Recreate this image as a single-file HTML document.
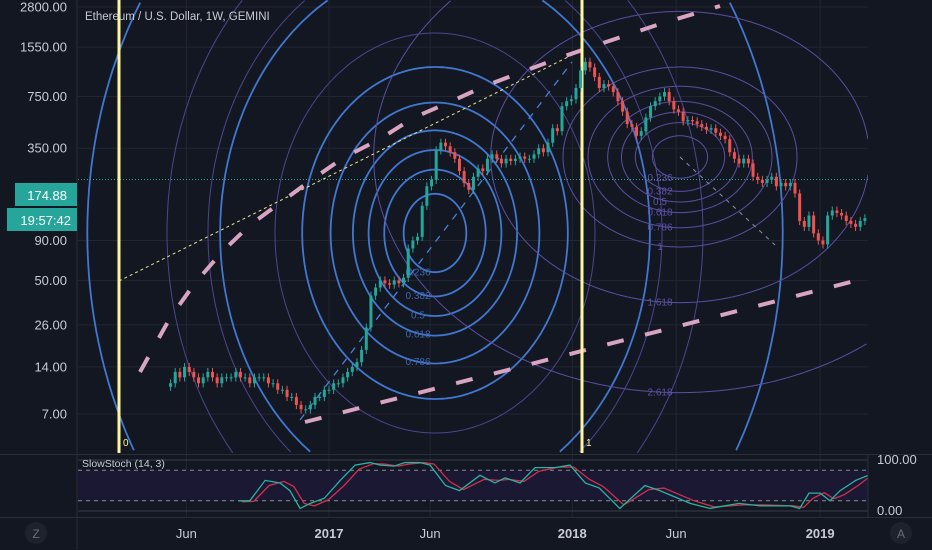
<!DOCTYPE html>
<html><head><meta charset="utf-8">
<style>
html,body{margin:0;padding:0;background:#131722;width:932px;height:550px;overflow:hidden;}
body{font-family:"Liberation Sans",sans-serif;}
svg{display:block;overflow:hidden;}
svg text{font-family:"Liberation Sans",sans-serif;}
</style></head>
<body>
<svg id="chart" width="932" height="550" viewBox="0 0 932 550">
  <rect x="0" y="0" width="932" height="550" fill="#131722"/>
  <defs>
    <clipPath id="mainClip"><rect x="78" y="0" width="790" height="454"/></clipPath>
    <clipPath id="stClip"><rect x="78" y="456" width="790" height="60"/></clipPath>
  </defs>
  <g id="grid"></g>
  <g clip-path="url(#mainClip)">
    <g id="drawings"></g>
    <g id="candles"></g>
  </g>
  <g clip-path="url(#stClip)">
    <g id="stoch"></g>
  </g>
  <g id="axes"></g>
  <text x="85" y="20" fill="#c8cbd2" font-size="11.5">Ethereum / U.S. Dollar, 1W, GEMINI</text>
  <text x="82" y="467" fill="#c8cbd2" font-size="10.5">SlowStoch (14, 3)</text>
</svg>
<script>
// ---- data ----
const priceTicks = [2800, 1550, 750, 350, 90, 50, 26, 14, 7];
const priceTickLabels = ["2800.00","1550.00","750.00","350.00","90.00","50.00","26.00","14.00","7.00"];
const timeTickWeeks = [-30.6, 0, 21.7, 52.2, 74.5, 105.4];
const timeTickLabels = ["Jun","2017","Jun","2018","Jun","2019"];
const timeTickBold = [false,true,false,true,false,true];
const firstWeek = -34;
const closes = [
 11,13,12,14,13,12,11,12,13,12,11,12,12,12,13,12,12,11,12,12,12,11,11,10,10,9,9,
 8,7.5,7.5,8,9,
 9,10,10,11,11,12,13,14,15,
 18,25,40,45,50,48,
 47,50,48,52,
 80,90,95,150,200,220,340,
 380,360,330,300,
 250,210,190,230,260,250,
 300,320,300,280,300,290,300,310,300,300,
 320,350,330,380,470,450,
 650,700,720,850,1100,1250,
 1150,1000,850,900,870,800,
 700,600,500,480,420,
 450,550,650,700,750,800,
 700,620,600,520,530,520,500,480,460,470,
 440,420,400,330,300,280,300,280,230,
 220,210,220,230,200,210,200,210,
 180,120,110,130,100,90,85,
 130,140,135,130,120,115,110,120,125,130,135,140,145
];
const stochWeeks = [-19.5,-17,-13.7,-10.5,-8.4,-6.2,-4,-1,2.4,5.6,8.8,11,14,16.3,19.5,21.7,25,28,32.4,35.6,37.8,41,44.2,48.5,51.7,55,58,62.4,67.8,71,77.5,81.8,88,92.5,99,101,103,105.4,107.5,109.7,113,115.7];
const stochK = [20,20,60,55,40,5,15,25,60,90,95,90,88,95,95,90,50,40,70,55,65,55,85,85,90,55,45,5,50,40,15,5,15,10,10,5,35,35,20,40,60,70];
const stochD = [18,19,50,58,48,15,10,22,50,82,93,92,88,92,95,92,58,42,62,60,62,58,78,86,86,62,48,12,42,45,20,8,12,12,10,7,25,36,24,32,52,65];
const blueLevels = [0.236,0.382,0.5,0.618,0.786,1];
const purpleLevels = [0.236,0.382,0.5,0.618,0.786,1,1.618,2.618];

// ---- scales ----
const NS='http://www.w3.org/2000/svg';
const pxPerWeek = 4.66, x0 = 329;
function xw(w){return x0 + w*pxPerWeek;}
function yp(v){return 7 + (Math.log10(2800)-Math.log10(v))*156.4;}
function ys(v){return 511 - v*0.51;}
function mk(tag, attrs, parent){const e=document.createElementNS(NS,tag);for(const k in attrs)e.setAttribute(k,attrs[k]);parent.appendChild(e);return e;}
// ellipse path clipped to the plot box
const BOX={x1:78,y1:0,x2:868,y2:453};
function ellipseD(cx,cy,rx,ry){
  let d='', pen=false; const N=720;
  for(let k=0;k<=N;k++){
    const t=k/N*2*Math.PI, x=cx+rx*Math.cos(t), y=cy+ry*Math.sin(t);
    const inside = x>=BOX.x1 && x<=BOX.x2 && y>=BOX.y1 && y<=BOX.y2;
    if(inside){ d += (pen?'L':'M')+x.toFixed(1)+','+y.toFixed(1); pen=true; }
    else pen=false;
  }
  return d || 'M0,0';
}

const grid=document.getElementById('grid'), axes=document.getElementById('axes');
priceTicks.forEach((v,i)=>{
  const y=yp(v);
  const l=mk('line',{x1:78,x2:868,y1:y,y2:y,stroke:'#232632','stroke-width':1},grid);
  
  
  const t=mk('text',{x:67,y:y+4.5,'text-anchor':'end',fill:'#c8cbd2','font-size':13},axes);
  t.textContent=priceTickLabels[i];
  
  
});
timeTickWeeks.forEach((w,i)=>{
  const x=xw(w);
  const l=mk('line',{x1:x,x2:x,y1:0,y2:517,stroke:'#232632','stroke-width':1},grid);
  
  
  const t=mk('text',{x:x,y:538,'text-anchor':'middle',fill:'#c8cbd2','font-size':13,'font-weight':timeTickBold[i]?'bold':'normal'},axes);
  t.textContent=timeTickLabels[i];
  
  
});
[[77,0,77,549],[868,454,868,517],[0,454.5,932,454.5],[0,517.5,932,517.5]].forEach(c=>{
  const l=mk('line',{x1:c[0],y1:c[1],x2:c[2],y2:c[3],stroke:'#2a2e39','stroke-width':1},axes);
  
  
});

// ---- drawings ----
const dr=document.getElementById('drawings');
[160,227,268].forEach(rx=>{
  const e=mk('path',{d:ellipseD(435,233,rx,rx*1.25),fill:'none',stroke:'#4b4690','stroke-width':1},dr);
  
  
});
const blueRy=166;
blueLevels.concat([1.618,2.618]).forEach(l=>{
  const e=mk('path',{d:ellipseD(435,233,blueRy*0.8*l,blueRy*l),fill:'none',stroke:'#4277d0','stroke-width':1.8},dr);
  
  
});
blueLevels.slice(0,5).forEach(l=>{
  const t=mk('text',{x:418,y:233+blueRy*l*0.98+4,fill:'#3e67ad','font-size':10,'text-anchor':'middle'},dr);
  t.textContent=String(l);
  
  
});
const purRy=90;
purpleLevels.forEach(l=>{
  const e=mk('path',{d:ellipseD(680,157,purRy*1.3*l,purRy*l),fill:'none',stroke:'#5a4fa0','stroke-width':1},dr);
  
  
  const t=mk('text',{x:660,y:157+purRy*l+3,fill:'#5e52a6','font-size':10,'text-anchor':'middle'},dr);
  t.textContent=String(l);
  
  
});
function line(a,name,interact){const e=mk(a.tag||'line',a.attrs,dr);return e;}
line({attrs:{x1:680,y1:157,x2:775,y2:245,stroke:'#8a8fa8','stroke-width':1,'stroke-dasharray':'4 5'}},'fib-ellipse-diagonal','true');
line({attrs:{x1:119,y1:281,x2:572,y2:55,stroke:'#e8e48a','stroke-width':1,'stroke-dasharray':'3 3'}},'yellow-trendline','true');
line({attrs:{x1:300,y1:420,x2:572,y2:62,stroke:'#4a7fd4','stroke-width':1.3,'stroke-dasharray':'7 7'}},'blue-trendline','true');
line({tag:'polyline',attrs:{points:'140,372 170,318 195,283 222,252 250,225 280,203 307,183 343,158 380,139 413,118 450,102 485,86 522,72 562,57 600,44 660,24 720,6',fill:'none',stroke:'#d9a4c2','stroke-width':4,'stroke-dasharray':'17 22'}},'pink-upper-channel','true');
line({attrs:{x1:305,y1:422,x2:866,y2:278,stroke:'#d9a4c2','stroke-width':4,'stroke-dasharray':'17 22'}},'pink-lower-channel','true');
line({attrs:{x1:78,y1:179.5,x2:868,y2:179.5,stroke:'#26a69a','stroke-width':1,'stroke-dasharray':'1 2'}},'last-price-line','false');
[[119,'0'],[582,'1']].forEach(p=>{
  line({attrs:{x1:p[0],y1:0,x2:p[0],y2:453,stroke:'#fff59d','stroke-width':3}},'fib-time-line','true');
  const t=mk('text',{x:p[0]+4,y:446,fill:'#fff59d','font-size':10},dr);
  t.textContent=p[1];
  
  
});

// ---- candles ----
const cg=document.getElementById('candles');
closes.forEach((c,i)=>{
  const o = i===0 ? c*0.95 : closes[i-1];
  const x = xw(firstWeek+i);
  const up = c>=o, col = up?'#26a69a':'#ef5350';
  const hi=Math.max(o,c)*1.06, lo=Math.min(o,c)*0.94;
  const w=mk('line',{x1:x,x2:x,y1:yp(hi),y2:yp(lo),stroke:col,'stroke-width':1},cg);
  
  
  const top=yp(Math.max(o,c)), bot=yp(Math.min(o,c));
  const b=mk('rect',{x:x-1.5,y:top,width:3,height:Math.max(1,bot-top),fill:col},cg);
  
  
});

// ---- stochastic ----
const sg=document.getElementById('stoch');
const band=mk('rect',{x:78,y:ys(80),width:790,height:ys(20)-ys(80),fill:'#1a1832'},sg);


[100,0].forEach(v=>{const l=mk('line',{x1:78,x2:868,y1:ys(v),y2:ys(v),stroke:'#3a3e4a','stroke-width':1},sg);
  
  });
[80,20].forEach(v=>{const l=mk('line',{x1:78,x2:868,y1:ys(v),y2:ys(v),stroke:'#8a8e9a','stroke-width':1,'stroke-dasharray':'4 4'},sg);
  
  });
const dPath=mk('polyline',{points:stochWeeks.map((w,i)=>Math.min(868,xw(w)+4)+','+ys(stochD[i])).join(' '),fill:'none',stroke:'#d0314b','stroke-width':1.3},sg);


const kPath=mk('polyline',{points:stochWeeks.map((w,i)=>xw(w)+','+ys(stochK[i])).join(' '),fill:'none',stroke:'#2ab3a6','stroke-width':1.3},sg);



// ---- right stoch axis & badges ----
function txt(x,y,s,attrs,name,inter){const t=mk('text',Object.assign({x:x,y:y},attrs),axes);t.textContent=s;return t;}
txt(877,464,'100.00',{fill:'#c8cbd2','font-size':13},'stoch-tick-100','false');
txt(877,515,'0.00',{fill:'#c8cbd2','font-size':13},'stoch-tick-0','false');
const b1=mk('rect',{x:15,y:183,width:62,height:23,fill:'#26a69a'},axes);


txt(67,200,'174.88',{fill:'#ffffff','font-size':13,'text-anchor':'end'},'last-price-value','false');
const b2=mk('rect',{x:7,y:208,width:70,height:23,fill:'#26a69a'},axes);


txt(71,225,'19:57:42',{fill:'#ffffff','font-size':13,'text-anchor':'end'},'bar-countdown','false');
const z=mk('circle',{cx:36,cy:533,r:11,fill:'#1e222d'},axes);


txt(36,538,'Z',{fill:'#6a6e7a','font-size':12,'text-anchor':'middle'},'zoom-button-label','false');
const a=mk('circle',{cx:901,cy:533,r:11,fill:'#1e222d'},axes);


txt(901,538,'A',{fill:'#6a6e7a','font-size':12,'text-anchor':'middle'},'auto-scale-button-label','false');
</script>
</body></html>
